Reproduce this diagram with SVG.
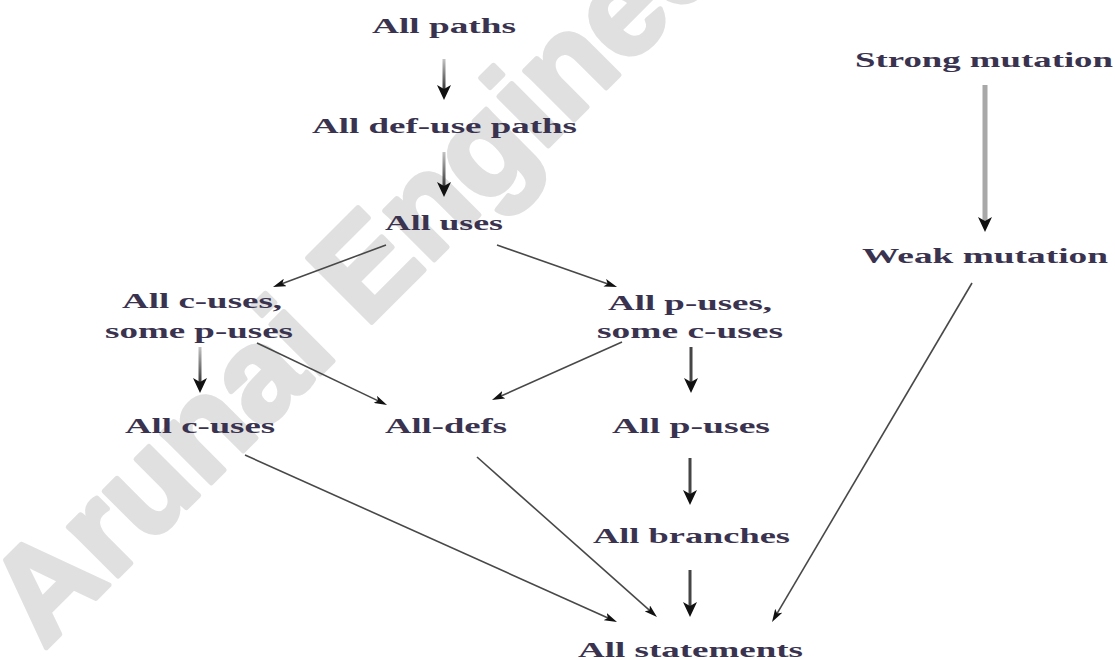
<svg xmlns="http://www.w3.org/2000/svg" xmlns:xlink="http://www.w3.org/1999/xlink" width="1115" height="660" viewBox="0 0 1115 660">
  <style>
    .lbl { font-family: "Liberation Serif", "Times New Roman", serif; font-weight: bold; font-size: 22px; fill: #3a3350; }
    .mark { font-family: "Liberation Sans", Arial, sans-serif; font-weight: bold; font-size: 132px; fill: #e0e0e0; stroke: #e0e0e0; stroke-width: 5; stroke-linejoin: round; }
    .thin { stroke: #484848; stroke-width: 1.6; fill: none; marker-end: url(#tip); }
    .fade { fill: url(#shaftFade); }
    .dark { fill: #454545; }
    .light { fill: #a8a8a8; }
    .head { fill: #111; }
  </style>
  <defs>
    <linearGradient id="shaftFade" x1="0" y1="0" x2="0" y2="1">
      <stop offset="0" stop-color="#c4c4c4"/>
      <stop offset="1" stop-color="#3a3a3a"/>
    </linearGradient>
    <!-- slim notched head for the diagonal connectors -->
    <marker id="tip" viewBox="0 0 13 8" markerWidth="13" markerHeight="8" refX="5" refY="4" orient="auto" markerUnits="userSpaceOnUse">
      <path d="M0,0 L13,4 L0,8 L3,4 z" fill="#111"/>
    </marker>
    <!-- downward head for the vertical connectors, tip at the origin -->
    <path id="vhead" class="head" d="M-7,-15 L0,0 L7,-15 L0,-11 z"/>
  </defs>

  <rect width="1115" height="660" fill="#ffffff"/>

  <!-- background watermark -->
  <text class="mark" transform="translate(44,650) rotate(-45)">Arunai Engineering</text>

  <g id="connectors">
    <!-- vertical chain on the left -->
    <rect class="fade" x="442.5" y="59" width="3" height="30"/>
    <use xlink:href="#vhead" x="444" y="100"/>
    <rect class="fade" x="442.5" y="152" width="3" height="34"/>
    <use xlink:href="#vhead" x="444" y="197"/>
    <rect class="fade" x="198.5" y="347" width="3" height="35"/>
    <use xlink:href="#vhead" x="200" y="393"/>
    <!-- vertical chain on the right -->
    <rect class="dark" x="689.5" y="347" width="3" height="35"/>
    <use xlink:href="#vhead" x="691" y="393"/>
    <rect class="dark" x="688.5" y="458" width="3" height="36"/>
    <use xlink:href="#vhead" x="690" y="505"/>
    <rect class="dark" x="688.5" y="570" width="3" height="36"/>
    <use xlink:href="#vhead" x="690" y="617"/>
    <!-- mutation chain -->
    <rect class="light" x="982.5" y="85" width="5" height="136"/>
    <use xlink:href="#vhead" x="985" y="232"/>

    <!-- diagonal connectors -->
    <line class="thin" x1="386" y1="245" x2="280.5" y2="284.2"/>
    <line class="thin" x1="497" y1="245" x2="609.5" y2="284.4"/>
    <line class="thin" x1="257" y1="343" x2="379.8" y2="401.6"/>
    <line class="thin" x1="622" y1="342" x2="499.3" y2="396.8"/>
    <line class="thin" x1="245" y1="455" x2="609.7" y2="618.7"/>
    <line class="thin" x1="477" y1="457" x2="651" y2="611.7"/>
    <line class="thin" x1="972" y1="283" x2="776.1" y2="615.1"/>
  </g>

  <g id="n-all-paths"><text class="lbl" x="372" y="33" textLength="144" lengthAdjust="spacingAndGlyphs">All paths</text></g>
  <g id="n-all-def-use"><text class="lbl" x="312" y="133" textLength="265" lengthAdjust="spacingAndGlyphs">All def-use paths</text></g>
  <g id="n-all-uses"><text class="lbl" x="385" y="230" textLength="118" lengthAdjust="spacingAndGlyphs">All uses</text></g>
  <g id="n-c-some-p">
    <text class="lbl" x="122" y="308" textLength="160" lengthAdjust="spacingAndGlyphs">All c-uses,</text>
    <text class="lbl" x="105" y="338" textLength="188" lengthAdjust="spacingAndGlyphs">some p-uses</text>
  </g>
  <g id="n-p-some-c">
    <text class="lbl" x="608" y="310" textLength="164" lengthAdjust="spacingAndGlyphs">All p-uses,</text>
    <text class="lbl" x="597" y="338" textLength="186" lengthAdjust="spacingAndGlyphs">some c-uses</text>
  </g>
  <g id="n-all-c-uses"><text class="lbl" x="125" y="433" textLength="150" lengthAdjust="spacingAndGlyphs">All c-uses</text></g>
  <g id="n-all-defs"><text class="lbl" x="385" y="433" textLength="122" lengthAdjust="spacingAndGlyphs">All-defs</text></g>
  <g id="n-all-p-uses"><text class="lbl" x="612" y="433" textLength="158" lengthAdjust="spacingAndGlyphs">All p-uses</text></g>
  <g id="n-all-branches"><text class="lbl" x="593" y="543" textLength="197" lengthAdjust="spacingAndGlyphs">All branches</text></g>
  <g id="n-all-statements"><text class="lbl" x="578" y="657" textLength="225" lengthAdjust="spacingAndGlyphs">All statements</text></g>
  <g id="n-strong-mutation"><text class="lbl" x="855" y="67" textLength="258" lengthAdjust="spacingAndGlyphs">Strong mutation</text></g>
  <g id="n-weak-mutation"><text class="lbl" x="862" y="263" textLength="246" lengthAdjust="spacingAndGlyphs">Weak mutation</text></g>
</svg>
